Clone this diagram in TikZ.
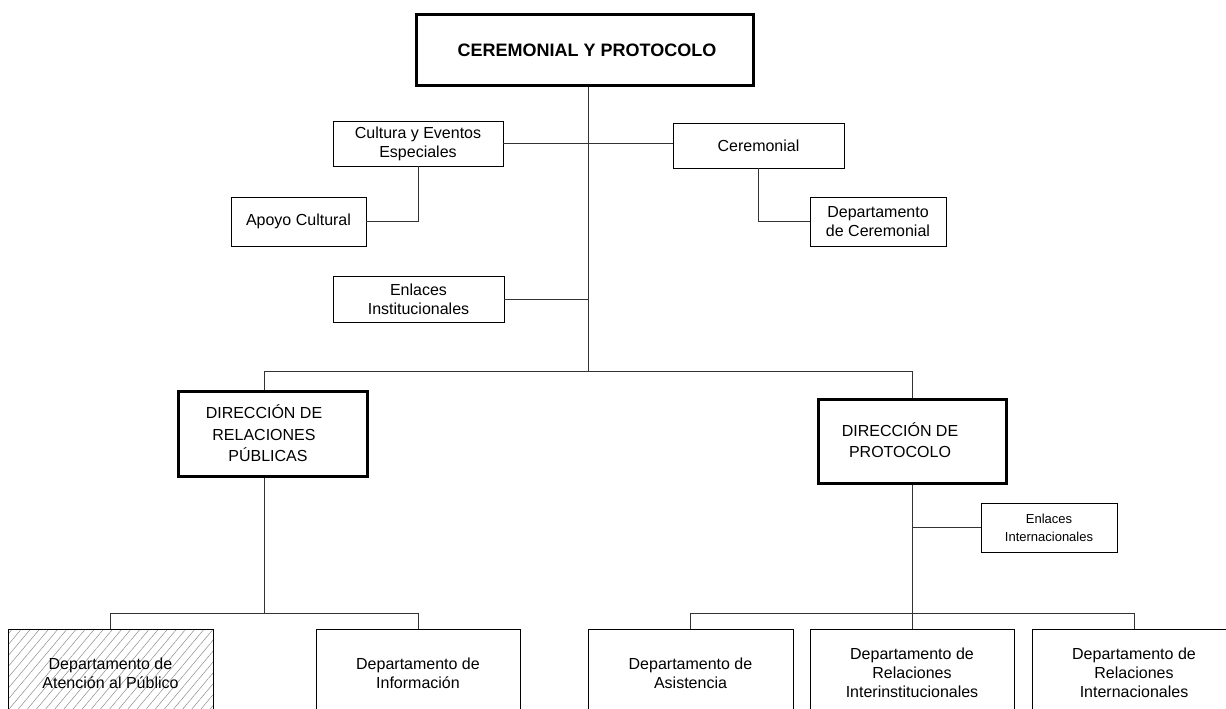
\documentclass[tikz,border=0pt]{standalone}
\usepackage{fontspec}
\setmainfont{Liberation Sans}
\usetikzlibrary{patterns.meta}
\begin{document}
\begin{tikzpicture}[x=1pt,y=-1pt,
  box/.style={draw=black, line width=0.8pt, inner sep=0pt, align=center, fill=white,
    font=\fontsize{16}{19}\selectfont},
  dirbox/.style={draw=black, line width=3pt, inner sep=0pt},
  dirtext/.style={inner sep=0pt, align=center, font=\fontsize{16}{21.5}\selectfont},
  conn/.style={draw=black!80, line width=0.8pt},
  hatched/.style={pattern={Lines[angle=50, distance=7pt, line width=0.5pt]}, pattern color=black!45}]
\useasboundingbox (0,0) rectangle (1226,709);
\clip (0,0) rectangle (1226,709);

% spine coordinates
\coordinate (spineTop) at (588,85);
\coordinate (spineBot) at (588,371);
\coordinate (busL) at (264,371);
\coordinate (busR) at (912,371);
\coordinate (rpBusY) at (264,613);
\coordinate (rpBusL) at (110.5,613);
\coordinate (rpBusR) at (418,613);
\coordinate (prBusY) at (912,613);
\coordinate (prBusL) at (690.5,613);
\coordinate (prBusR) at (1134,613);

% connectors (drawn first)
\draw[conn] (spineTop) -- (spineBot);
\draw[conn] (busL) -- (busR);

% nodes
\node[dirbox, minimum width=337pt, minimum height=70pt, font=\fontsize{18}{21}\selectfont\bfseries] (top) at (584.5,50) {\hspace*{5pt}CEREMONIAL Y PROTOCOLO};
\node[box, minimum width=170pt, minimum height=45pt] (cult) at (418,143.5) {Cultura y Eventos\\Especiales};
\node[box, minimum width=171pt, minimum height=45pt] (cer) at (758.5,145.5) {Ceremonial};
\node[box, minimum width=135pt, minimum height=49pt] (apoyo) at (298.5,221.5) {Apoyo Cultural};
\node[box, minimum width=136pt, minimum height=49pt] (deptcer) at (878,221.5) {Departamento\\de Ceremonial};
\node[box, minimum width=171pt, minimum height=46pt] (enlinst) at (418.5,299) {Enlaces\\Institucionales};

\node[dirbox, minimum width=189pt, minimum height=85pt] (dirrp) at (272.5,433.5) {};
\node[dirtext] (dirrpT) at (264,433.5) {DIRECCIÓN DE\\RELACIONES\\\hspace*{8pt}PÚBLICAS};
\node[dirbox, minimum width=188pt, minimum height=84pt] (dirprot) at (912,441) {};
\node[dirtext] (dirprotT) at (900,440) {DIRECCIÓN DE\\PROTOCOLO};

\node[box, minimum width=136pt, minimum height=49pt, font=\fontsize{13}{18}\selectfont] (enlint) at (1049,527.5) {Enlaces\\Internacionales};

\node[box, hatched, minimum width=205pt, minimum height=88pt] (aten) at (110.5,673) {Departamento de\\Atención al Público};
\node[box, minimum width=204pt, minimum height=88pt] (info) at (418,673) {Departamento de\\Información};
\node[box, minimum width=205pt, minimum height=88pt] (asist) at (690.5,673) {Departamento de\\Asistencia};
\node[box, minimum width=204pt, minimum height=88pt] (inter) at (912,673) {Departamento de\\Relaciones\\Interinstitucionales};
\node[box, minimum width=204pt, minimum height=88pt] (intl) at (1134,673) {Departamento de\\Relaciones\\Internacionales};

% connectors
\draw[conn] (cult.east) -- (cult.east -| cer.west);
\draw[conn] (cult.south) |- (apoyo.east);
\draw[conn] (cer.south) |- (deptcer.west);
\draw[conn] (enlinst.east) -- (enlinst.east -| spineTop);
\draw[conn] (busL) -- (busL |- dirrp.north);
\draw[conn] (busR) -- (dirprot.north);
\draw[conn] (busL |- dirrp.south) -- (rpBusY);
\draw[conn] (rpBusL) -- (rpBusR);
\draw[conn] (rpBusL) -- (aten.north);
\draw[conn] (rpBusR) -- (info.north);
\draw[conn] (dirprot.south) -- (prBusY);
\draw[conn] (prBusL) -- (prBusR);
\draw[conn] (prBusL) -- (asist.north);
\draw[conn] (prBusY) -- (inter.north);
\draw[conn] (prBusR) -- (intl.north);
\draw[conn] (enlint.west -| dirprot.south) -- (enlint.west);
\end{tikzpicture}
\end{document}
